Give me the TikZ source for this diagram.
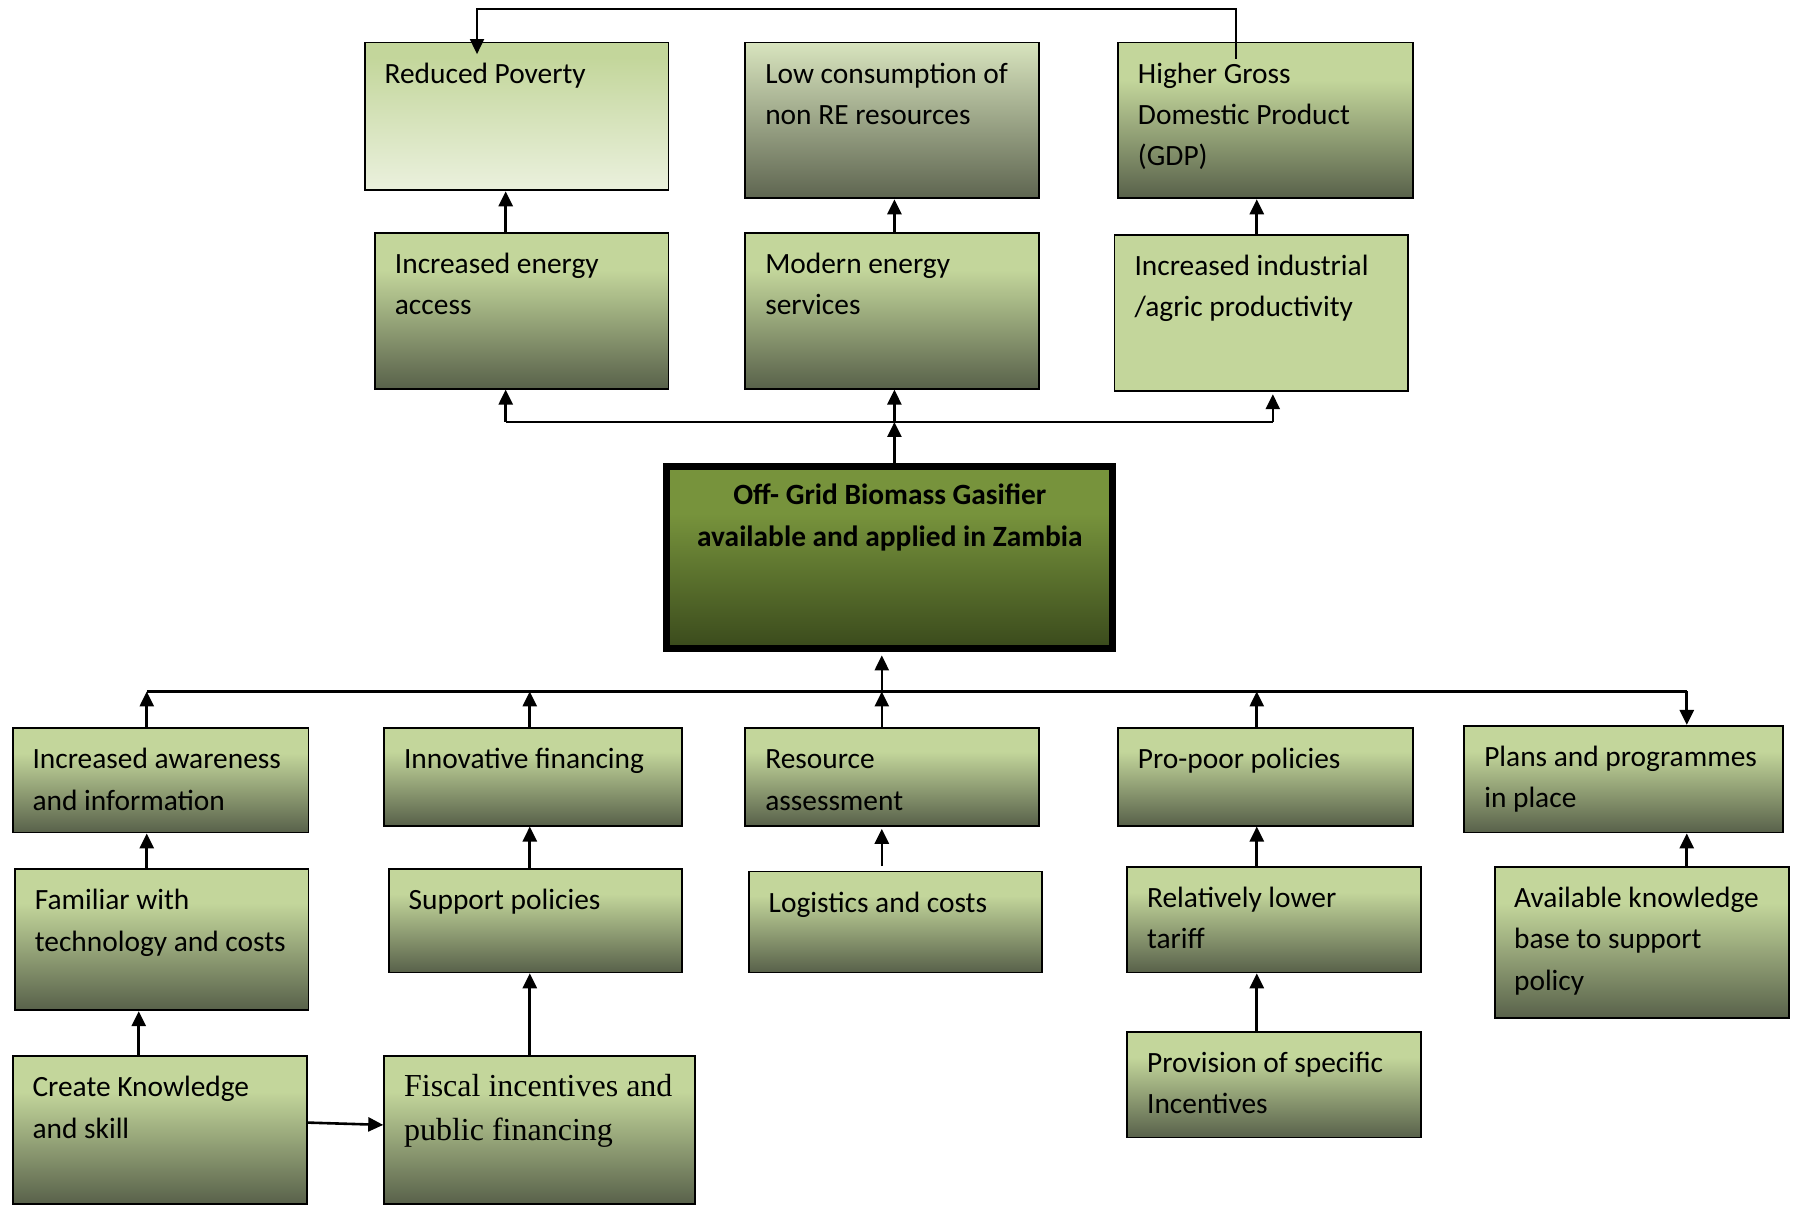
\documentclass[tikz,border=0pt]{standalone}
\usepackage{fontspec}
\setmainfont{Carlito}
\newfontfamily\serifx{Liberation Serif}
\usetikzlibrary{arrows.meta,fit,calc}

\definecolor{lt}{HTML}{C3D69B}
\definecolor{dk}{HTML}{58614A}
\definecolor{povlo}{HTML}{EBF1DE}
\definecolor{lclt}{HTML}{D8E4BE}
\definecolor{lcdk}{HTML}{5E6550}
\definecolor{ctop}{HTML}{77933C}
\definecolor{cbot}{HTML}{3A4A1C}

\pgfdeclareverticalshading{olive}{100bp}{color(0bp)=(dk); color(25bp)=(dk); color(63bp)=(lt); color(100bp)=(lt)}
\pgfdeclareverticalshading{povsh}{100bp}{color(0bp)=(povlo); color(25bp)=(povlo); color(70bp)=(lt); color(100bp)=(lt)}
\pgfdeclareverticalshading{lowsh}{100bp}{color(0bp)=(lcdk); color(25bp)=(lcdk); color(75bp)=(lclt); color(100bp)=(lclt)}
\pgfdeclareverticalshading{censh}{100bp}{color(0bp)=(cbot); color(25bp)=(cbot); color(62bp)=(ctop); color(100bp)=(ctop)}
\pgfdeclareverticalshading{flatsh}{100bp}{color(0bp)=(lt); color(100bp)=(lt)}

\newcommand\tstrut{\rule{0pt}{0.8em}}

\tikzset{
  box/.style={draw=black, line width=1.8pt, inner sep=0pt, shading=olive},
  txt/.style={anchor=north west, inner sep=0pt, align=left, font={\fontsize{29.4pt}{41.3pt}\selectfont}},
  conn/.style={line width=2.6pt, draw=black},
  arr/.style={conn, -{Triangle[length=15pt,width=14pt]}},
}

\begin{document}
\begin{tikzpicture}[x=1.1467pt, y=-1.1467pt]
\useasboundingbox (0,0) rectangle (1568,1051);

% ---- boxes ----
\node[box, shading=povsh, fit={(318,37)(583,166)}] (pov) {};
\node[box, shading=lowsh, fit={(650,37)(906,173)}] (lowc) {};
\node[box, fit={(975,37)(1232,173)}] (gdp) {};
\node[box, fit={(327,203)(583,339)}] (access) {};
\node[box, fit={(650,203)(906,339)}] (modern) {};
\node[box, shading=flatsh, fit={(972,205)(1228,341)}] (indus) {};
\node[box, shading=censh, line width=7pt, fit={(581.5,406.5)(970.5,565.5)}] (center) {};
\node[box, fit={(11,635)(269,726)}] (aware) {};
\node[box, fit={(335,635)(595,720)}] (innov) {};
\node[box, fit={(650,635)(906,720)}] (resou) {};
\node[box, fit={(975,635)(1232,720)}] (propo) {};
\node[box, fit={(1277,633)(1555,726)}] (plans) {};
\node[box, fit={(13,758)(269,881)}] (famil) {};
\node[box, fit={(339,758)(595,848)}] (supp) {};
\node[box, fit={(653,760)(909,848)}] (logis) {};
\node[box, fit={(983,756)(1239,848)}] (tarif) {};
\node[box, fit={(1304,756)(1560,888)}] (avail) {};
\node[box, fit={(11,921)(268,1050)}] (creat) {};
\node[box, fit={(335,921)(606,1050)}] (fisc) {};
\node[box, fit={(983,900)(1239,992)}] (provi) {};

% ---- texts ----
\node[txt] (povt) at ($(pov.north west)+(18,15.5)$) {\tstrut Reduced Poverty};
\node[txt] (lowct) at ($(lowc.north west)+(18,15.5)$) {\tstrut Low consumption of\\non RE resources};
\node[txt] (gdpt) at ($(gdp.north west)+(18,15.5)$) {\tstrut Higher Gross\\Domestic Product\\(GDP)};
\node[txt] (accesst) at ($(access.north west)+(18,15.5)$) {\tstrut Increased energy\\access};
\node[txt] (modernt) at ($(modern.north west)+(18,15.5)$) {\tstrut Modern energy\\services};
\node[txt] (indust) at ($(indus.north west)+(18,15.5)$) {\tstrut Increased industrial\\/agric productivity};
\node[txt, anchor=north, align=center, font={\fontsize{29.4pt}{41.3pt}\selectfont\bfseries}] (centert) at ($(center.north)+(0,16)$) {\tstrut Off- Grid Biomass Gasifier\\available and applied in Zambia};
\node[txt] (awaret) at ($(aware.north west)+(18,15.5)$) {\tstrut Increased awareness\\and information};
\node[txt] (innovt) at ($(innov.north west)+(18,15.5)$) {\tstrut Innovative financing};
\node[txt] (resout) at ($(resou.north west)+(18,15.5)$) {\tstrut Resource\\assessment};
\node[txt] (propot) at ($(propo.north west)+(18,15.5)$) {\tstrut Pro-poor policies};
\node[txt] (planst) at ($(plans.north west)+(18,15.5)$) {\tstrut Plans and programmes\\in place};
\node[txt] (familt) at ($(famil.north west)+(18,15.5)$) {\tstrut Familiar with\\technology and costs};
\node[txt] (suppt) at ($(supp.north west)+(18,15.5)$) {\tstrut Support policies};
\node[txt] (logist) at ($(logis.north west)+(18,15.5)$) {\tstrut Logistics and costs};
\node[txt] (tarift) at ($(tarif.north west)+(18,15.5)$) {\tstrut Relatively lower\\tariff};
\node[txt] (availt) at ($(avail.north west)+(17,15.5)$) {\tstrut Available knowledge\\base to support\\policy};
\node[txt] (creatt) at ($(creat.north west)+(18,15.5)$) {\tstrut Create Knowledge\\and skill};
\node[txt, font={\serifx\fontsize{32pt}{43.6pt}\selectfont}] (fisct) at ($(fisc.north west)+(18,13.7)$) {\tstrut Fiscal incentives and\\public financing};
\node[txt] (provit) at ($(provi.north west)+(18,15.5)$) {\tstrut Provision of specific\\Incentives};

% ---- helper coordinates ----
\coordinate (fbR) at (1078,8);
\coordinate (fbL) at (416,8);
\coordinate (cA) at (441,0);
\coordinate (cB) at (780,0);
\coordinate (cC) at (1096,0);
\coordinate (cD) at (1110,0);
\coordinate (busT) at (0,368);
\coordinate (busB) at (0,603);
\coordinate (c0) at (121,0);
\coordinate (c1) at (128,0);
\coordinate (c2) at (462,0);
\coordinate (c3) at (769,0);
\coordinate (c4) at (1096,0);
\coordinate (c5) at (1471,0);

% ---- top connectors ----
\draw[arr, line width=1.8pt] ($(gdp.north -| fbR)+(0,15)$) -- (fbR) -- (fbL) -- ($(pov.north -| fbL)+(0,11)$);
\draw[arr] (access.north -| cA) -- (pov.south -| cA);
\draw[arr] (modern.north -| cB) -- (lowc.south -| cB);
\draw[arr] (indus.north -| cC) -- (gdp.south -| cC);
\draw[arr] (center.north -| cB) -- (busT -| cB);
\draw[conn] (busT -| cA) -- (busT -| cD);
\draw[arr] (busT -| cA) -- (access.south -| cA);
\draw[arr] (busT -| cB) -- (modern.south -| cB);
\draw[arr] (busT -| cD) -- ($(indus.south -| cD)+(0,2)$);

% ---- bottom connectors ----
\draw[conn] (busB -| c1) -- (busB -| c5);
\draw[arr] (busB -| c3) -- ($(center.south -| c3)+(0,3)$);
\draw[arr] (aware.north -| c1) -- (busB -| c1);
\draw[arr] (innov.north -| c2) -- (busB -| c2);
\draw[arr] (resou.north -| c3) -- (busB -| c3);
\draw[arr] (propo.north -| c4) -- (busB -| c4);
\draw[arr] (busB -| c5) -- (plans.north -| c5);

\draw[arr] (famil.north -| c1) -- (aware.south -| c1);
\draw[arr] (supp.north -| c2) -- (innov.south -| c2);
\draw[arr] ($(logis.north -| c3)+(0,-4)$) -- ($(resou.south -| c3)+(0,2)$);
\draw[arr] (tarif.north -| c4) -- (propo.south -| c4);
\draw[arr] (avail.north -| c5) -- (plans.south -| c5);

\draw[arr] (creat.north -| c0) -- (famil.south -| c0);
\draw[arr] (fisc.north -| c2) -- (supp.south -| c2);
\draw[arr] (provi.north -| c4) -- (tarif.south -| c4);
\draw[arr] ($(creat.east)+(0,-6.5)$) -- ($(fisc.west)+(0,-4.5)$);
\end{tikzpicture}
\end{document}
